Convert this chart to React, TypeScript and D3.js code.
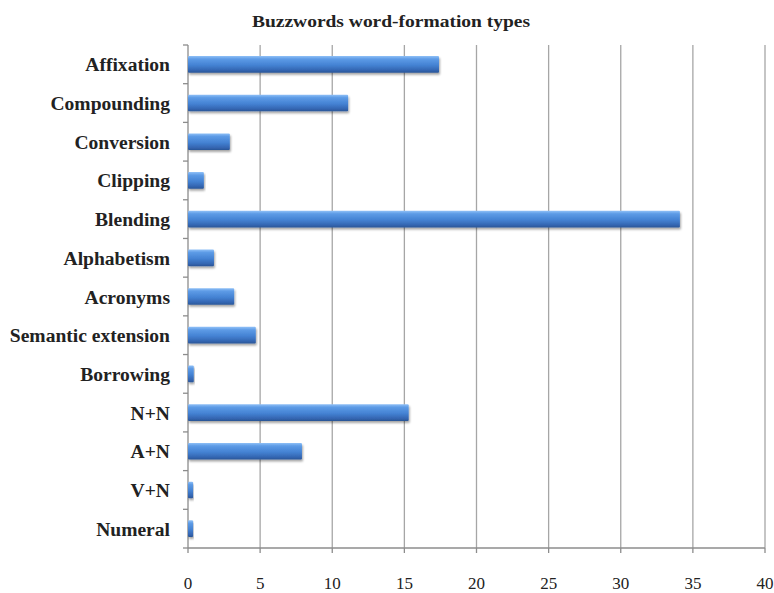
import * as d3 from "d3";

const categories = [
  "Affixation",
  "Compounding",
  "Conversion",
  "Clipping",
  "Blending",
  "Alphabetism",
  "Acronyms",
  "Semantic extension",
  "Borrowing",
  "N+N",
  "A+N",
  "V+N",
  "Numeral",
];
const counts = [17.4, 11.1, 2.9, 1.1, 34.1, 1.8, 3.2, 4.7, 0.4, 15.3, 7.9, 0.35, 0.35];
const xTicks = [0, 5, 10, 15, 20, 25, 30, 35, 40];

const W = 774;
const H = 593;
const M = { top: 45, left: 188, right: 10, bottom: 45 };
const GRID = "#a6a6a6";
const SERIF = "'Liberation Serif', 'Times New Roman', serif";

const App = () => {
  const x = d3.scaleLinear().domain([0, 40]).range([M.left, 765]);
  const y = d3
    .scaleBand()
    .domain(categories)
    .range([M.top, H - M.bottom])
    .paddingInner(0.57)
    .paddingOuter(0.285);
  const step = y.step();
  const bottom = H - M.bottom;

  return (
    <svg
      width={W}
      height={H}
      style={{ position: "absolute", left: 0, top: 0, background: "#fff" }}
    >
      <defs>
        <linearGradient id="barFill" x1="0" y1="0" x2="0" y2="1">
          <stop offset="0" stopColor="#8fc0f7" />
          <stop offset="0.18" stopColor="#5d9be6" />
          <stop offset="0.55" stopColor="#4482d3" />
          <stop offset="0.85" stopColor="#3466b2" />
          <stop offset="1" stopColor="#2a5596" />
        </linearGradient>
        <filter id="shadow" x="-5%" y="-30%" width="115%" height="180%">
          <feDropShadow dx="1" dy="2" stdDeviation="1.3" floodColor="#000" floodOpacity="0.35" />
        </filter>
      </defs>

      <text
        x={391}
        y={27}
        textAnchor="middle"
        fontFamily={SERIF}
        fontWeight="bold"
        fontSize={17}
        textLength={278}
        lengthAdjust="spacingAndGlyphs"
        fill="#222"
      >
        Buzzwords word-formation types
      </text>

      {/* vertical gridlines */}
      {xTicks.slice(1).map((t) => (
        <line
          key={"g" + t}
          x1={x(t)}
          x2={x(t)}
          y1={M.top}
          y2={bottom}
          stroke={GRID}
          strokeWidth={1.3}
        />
      ))}

      {/* axes */}
      <line x1={x(0)} x2={x(0)} y1={M.top} y2={bottom} stroke="#8c8c8c" strokeWidth={1.3} />
      <line x1={x(0)} x2={x(40)} y1={bottom} y2={bottom} stroke="#8c8c8c" strokeWidth={1.3} />
      {d3.range(categories.length + 1).map((i) => (
        <line
          key={"yt" + i}
          x1={x(0) - 5}
          x2={x(0)}
          y1={M.top + i * step}
          y2={M.top + i * step}
          stroke="#8c8c8c"
          strokeWidth={1.3}
        />
      ))}
      {xTicks.map((t) => (
        <g key={"xt" + t}>
          <line x1={x(t)} x2={x(t)} y1={bottom} y2={bottom + 5} stroke="#8c8c8c" strokeWidth={1.3} />
          <text
            x={x(t)}
            y={589}
            textAnchor="middle"
            fontFamily={SERIF}
            fontSize={17}
            fill="#222"
          >
            {t}
          </text>
        </g>
      ))}

      {/* bars */}
      {categories.map((c, i) => (
        <rect
          key={c}
          x={x(0)}
          y={y(c)}
          width={x(counts[i]) - x(0)}
          height={y.bandwidth()}
          rx={1}
          fill="url(#barFill)"
          filter="url(#shadow)"
        />
      ))}

      {/* category labels */}
      {categories.map((c) => {
        const cy = (y(c) ?? 0) + y.bandwidth() / 2 + 7;
        return (
          <text
            key={"l" + c}
            transform={`translate(170,${cy}) scale(1.03,1)`}
            textAnchor="end"
            fontFamily={SERIF}
            fontWeight="bold"
            fontSize={19}
            fill="#222"
          >
            {c}
          </text>
        );
      })}
    </svg>
  );
};

export default App;
